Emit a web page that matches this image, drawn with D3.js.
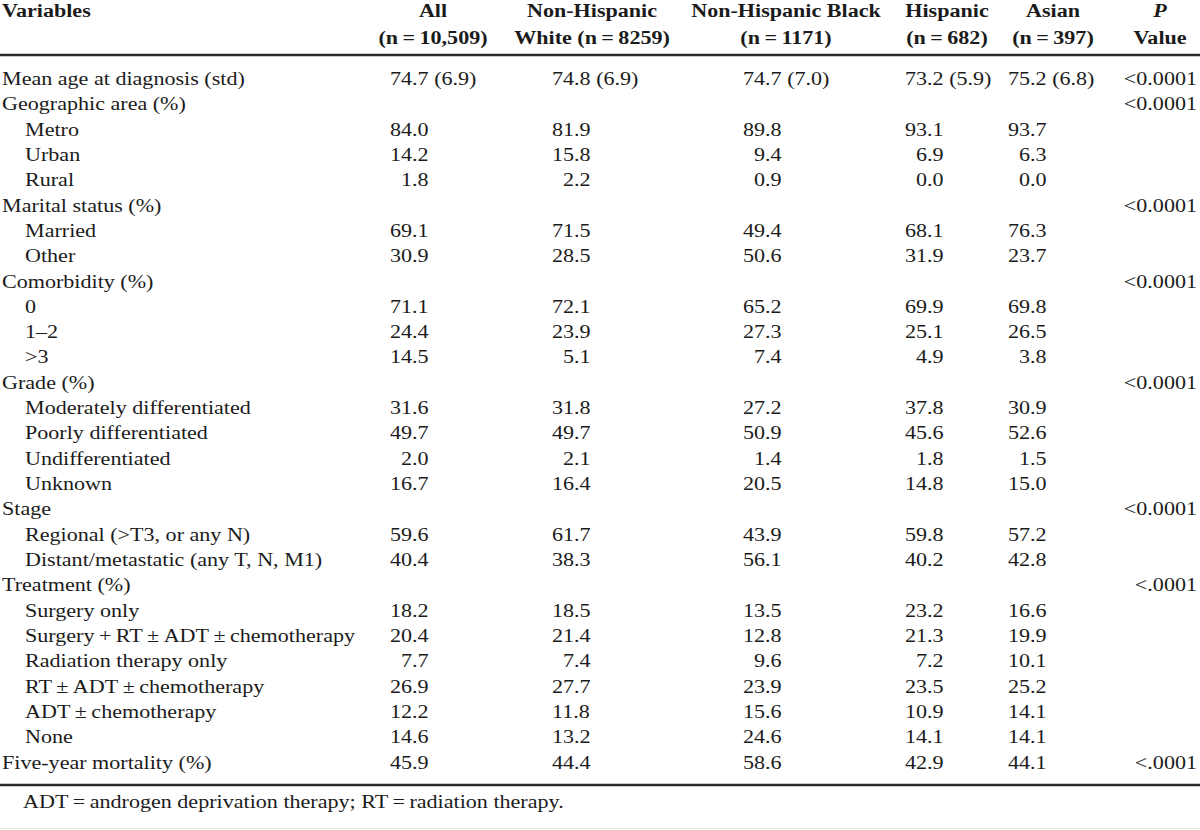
<!DOCTYPE html>
<html>
<head>
<meta charset="utf-8">
<script src="https://cdn.jsdelivr.net/npm/d3@7"></script>
<style>
  html, body { margin: 0; padding: 0; background: #fff; }
  svg { display: block; }
  text { font-family: "Liberation Serif", "Times New Roman", serif; fill: #1b1b1b; }
</style>
</head>
<body>
<svg id="chart" width="1200" height="830"></svg>
<script>
// ---------- data ----------
const rowLabels = [
  "Mean age at diagnosis (std)", "Geographic area (%)", "Metro", "Urban", "Rural",
  "Marital status (%)", "Married", "Other",
  "Comorbidity (%)", "0", "1\u20132", ">3",
  "Grade (%)", "Moderately differentiated", "Poorly differentiated", "Undifferentiated", "Unknown",
  "Stage", "Regional (>T3, or any N)", "Distant/metastatic (any T, N, M1)",
  "Treatment (%)", "Surgery only", "Surgery\u2009+\u2009RT\u2009\u00b1\u2009ADT\u2009\u00b1\u2009chemotherapy",
  "Radiation therapy only", "RT\u2009\u00b1\u2009ADT\u2009\u00b1\u2009chemotherapy", "ADT\u2009\u00b1\u2009chemotherapy", "None",
  "Five-year mortality (%)"
];
const rowLevel = [0,0,1,1,1, 0,1,1, 0,1,1,1, 0,1,1,1,1, 0,1,1, 0,1,1,1,1,1,1, 0];

const headerLine1 = ["Variables", "All", "Non-Hispanic", "Non-Hispanic Black", "Hispanic", "Asian", "P"];
const headerLine2 = ["", "(n\u2009=\u200910,509)", "White (n\u2009=\u20098259)", "(n\u2009=\u20091171)", "(n\u2009=\u2009682)", "(n\u2009=\u2009397)", "Value"];

const allVals   = ["74.7 (6.9)","","84.0","14.2","1.8","","69.1","30.9","","71.1","24.4","14.5","","31.6","49.7","2.0","16.7","","59.6","40.4","","18.2","20.4","7.7","26.9","12.2","14.6","45.9"];
const nhwVals   = ["74.8 (6.9)","","81.9","15.8","2.2","","71.5","28.5","","72.1","23.9","5.1","","31.8","49.7","2.1","16.4","","61.7","38.3","","18.5","21.4","7.4","27.7","11.8","13.2","44.4"];
const nhbVals   = ["74.7 (7.0)","","89.8","9.4","0.9","","49.4","50.6","","65.2","27.3","7.4","","27.2","50.9","1.4","20.5","","43.9","56.1","","13.5","12.8","9.6","23.9","15.6","24.6","58.6"];
const hispVals  = ["73.2 (5.9)","","93.1","6.9","0.0","","68.1","31.9","","69.9","25.1","4.9","","37.8","45.6","1.8","14.8","","59.8","40.2","","23.2","21.3","7.2","23.5","10.9","14.1","42.9"];
const asianVals = ["75.2 (6.8)","","93.7","6.3","0.0","","76.3","23.7","","69.8","26.5","3.8","","30.9","52.6","1.5","15.0","","57.2","42.8","","16.6","19.9","10.1","25.2","14.1","14.1","44.1"];
const pVals     = ["<0.0001","<0.0001","","","","<0.0001","","","<0.0001","","","","<0.0001","","","","","<0.0001","","","<.0001","","","","","","","<.0001"];

const footnote = "ADT\u2009=\u2009androgen deprivation therapy; RT\u2009=\u2009radiation therapy.";

// ---------- layout ----------
const FS = 19.2;        // font size (glyph height)
const SX = 1.15;        // horizontal stretch of the scanned table
const digitW = 0.5 * FS * SX;

const svg = d3.select("#chart");
const colKeys = ["all", "nhw", "nhb", "hisp", "asian"];
const colSeries = [allVals, nhwVals, nhbVals, hispVals, asianVals];
// left edge of a "00.0" value in each numeric column
const colLeft = d3.scaleOrdinal().domain(colKeys).range([390, 552, 743, 905, 1008]);
const headerX = d3.scaleOrdinal()
  .domain(["var"].concat(colKeys).concat(["p"]))
  .range([2, 433, 592, 786, 947, 1053, 1160]);
const pRight = 1197;
const indent = 23;

const y = d3.scaleLinear().domain([0, rowLabels.length - 1]).range([85, 768.5]);

function txt(g, x, yy, s, anchor, weight, style) {
  return g.append("text")
    .attr("transform", `translate(${x},${yy}) scale(${SX},1)`)
    .attr("text-anchor", anchor || "start")
    .attr("font-size", FS)
    .attr("font-weight", weight || "normal")
    .attr("font-style", style || "normal")
    .text(s);
}

// header
const hg = svg.append("g").attr("class", "header");
const hKeys = headerX.domain();
hKeys.forEach((k, i) => {
  const anchor = i === 0 ? "start" : "middle";
  txt(hg, headerX(k), 17, headerLine1[i], anchor, "bold", k === "p" ? "italic" : "normal");
  if (headerLine2[i]) txt(hg, headerX(k), 44, headerLine2[i], anchor, "bold");
});

// rules
svg.append("line").attr("x1", 0).attr("x2", 1200).attr("y1", 55).attr("y2", 55)
  .attr("stroke", "#2a2a2a").attr("stroke-width", 2.4);
svg.append("line").attr("x1", 0).attr("x2", 1200).attr("y1", 785).attr("y2", 785)
  .attr("stroke", "#2a2a2a").attr("stroke-width", 2.4);
svg.append("line").attr("x1", 0).attr("x2", 1200).attr("y1", 828.5).attr("y2", 828.5)
  .attr("stroke", "#e6e6e6").attr("stroke-width", 1);

// body rows
const bg = svg.append("g").attr("class", "body");
rowLabels.forEach((lab, i) => {
  txt(bg, 2 + rowLevel[i] * indent, y(i), lab, "start");
});

colKeys.forEach((k, ci) => {
  const vals = colSeries[ci];
  vals.forEach((v, i) => {
    if (!v) return;
    const intPart = v.split(".")[0];
    // decimal alignment: decimal point sits after two digits from the column left
    const decX = colLeft(k) + 2 * digitW;
    const x = decX - intPart.length * digitW;
    txt(bg, x, y(i), v, "start");
  });
});

pVals.forEach((v, i) => {
  if (!v) return;
  txt(bg, pRight, y(i), v, "end");
});

// footnote
txt(svg, 23, 808, footnote, "start");
</script>
</body>
</html>
